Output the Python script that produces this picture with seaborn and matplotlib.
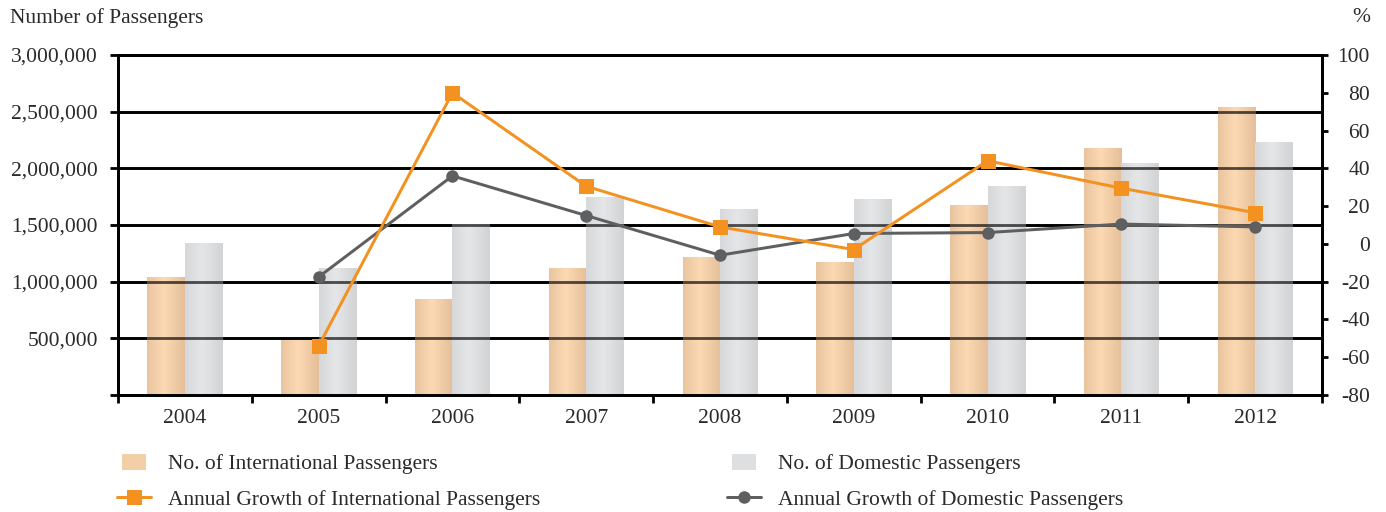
import numpy as np
import pandas as pd
import matplotlib
matplotlib.use("Agg")
import matplotlib.pyplot as plt
import seaborn as sns
from matplotlib.colors import LinearSegmentedColormap
from matplotlib.patches import Rectangle
from matplotlib.lines import Line2D
from matplotlib.legend_handler import HandlerPatch
from matplotlib.ticker import FuncFormatter, FixedLocator

# ---------------- data ----------------
years = ["2004", "2005", "2006", "2007", "2008", "2009", "2010", "2011", "2012"]
intl_passengers = [1041000, 485000, 847000, 1120000, 1218000, 1174000, 1676000, 2179000, 2541000]
dom_passengers = [1341000, 1120000, 1509000, 1747000, 1641000, 1729000, 1844000, 2047000, 2232000]
intl_growth = [np.nan, -54.0, 80.0, 30.5, 9.0, -3.0, 44.0, 29.5, 16.5]
dom_growth = [np.nan, -17.5, 36.0, 15.0, -6.0, 5.5, 6.0, 10.5, 9.0]

left_ticks = [0, 500000, 1000000, 1500000, 2000000, 2500000, 3000000]
right_ticks = [-80, -60, -40, -20, 0, 20, 40, 60, 80, 100]

lab_intl = "No. of International Passengers"
lab_dom = "No. of Domestic Passengers"
lab_ig = "Annual Growth of International Passengers"
lab_dg = "Annual Growth of Domestic Passengers"

# ---------------- style ----------------
sns.set_theme(style="white")
plt.rcParams["font.family"] = ["Liberation Serif", "DejaVu Serif"]
TXT = "#2a2a2a"
FS = 15.5
plt.rcParams.update({
    "text.color": TXT, "xtick.color": "black", "ytick.color": "black",
    "xtick.labelcolor": TXT, "ytick.labelcolor": TXT,
    "axes.edgecolor": "black", "font.size": FS,
    "axes.unicode_minus": False,
})

ORANGE_BAR = ["#e9c4a0", "#fcd9b3", "#e4bf9a"]
GREY_BAR = ["#d7d8da", "#e5e6e8", "#d2d3d5"]
ORANGE_LINE = "#f39221"
GREY_LINE = "#5e5f61"

px = 72 / 100.0  # points per pixel
LW = 2 * px * 1.4

fig = plt.figure(figsize=(13.86, 5.12), dpi=100)
ax = fig.add_axes([118 / 1386, 1 - 395 / 512, (1322 - 118) / 1386, (395 - 55) / 512])

df = pd.DataFrame({
    "Year": years * 2,
    "Passengers": intl_passengers + dom_passengers,
    "Type": ["Intl"] * len(years) + ["Dom"] * len(years),
})
sns.barplot(data=df, x="Year", y="Passengers", hue="Type",
            palette=[ORANGE_BAR[1], GREY_BAR[1]], width=0.56, saturation=1,
            legend=False, ax=ax, linewidth=0, zorder=2)

# gradient fill of bars
cmaps = {0: LinearSegmentedColormap.from_list("o", list(zip([0, 0.45, 1], ORANGE_BAR))),
         1: LinearSegmentedColormap.from_list("g", list(zip([0, 0.45, 1], GREY_BAR)))}
grad = np.linspace(0, 1, 64).reshape(1, -1)
n = len(years)
for i, p in enumerate(list(ax.patches)):
    x0, y0 = p.get_x(), p.get_y()
    w, h = p.get_width(), p.get_height()
    if h <= 0:
        continue
    cm = cmaps[0] if i < n else cmaps[1]
    im = ax.imshow(grad, cmap=cm, extent=[x0, x0 + w, y0, y0 + h],
                   aspect="auto", zorder=2.1, interpolation="bicubic")
    im.set_clip_path(p)

ax.set_xlim(-0.5, n - 0.5)
ax.set_ylim(0, 3000000)

# grid lines: solid under bars, translucent over bars
for v in left_ticks[1:]:
    ax.axhline(v, color="black", lw=LW, zorder=1)
    ax.axhline(v, color="black", lw=LW, alpha=0.68, zorder=3)

ax.yaxis.set_major_locator(FixedLocator(left_ticks))
ax.yaxis.set_major_formatter(FuncFormatter(lambda v, _: "" if v == 0 else f"{int(v):,}"))
ax.tick_params(axis="y", which="major", direction="out", length=8 * px, width=LW,
               pad=12 * px, labelsize=FS, left=True)
ax.xaxis.set_minor_locator(FixedLocator(np.arange(-0.5, n, 1.0)))
ax.tick_params(axis="x", which="major", length=0, pad=14 * px, labelsize=FS, bottom=True)
ax.tick_params(axis="x", which="minor", length=8 * px, width=LW, direction="out", bottom=True)
ax.set_xlabel("")
ax.set_ylabel("")
for s in ["left", "bottom", "right", "top"]:
    ax.spines[s].set_linewidth(LW)
    ax.spines[s].set_color("black")

# ---------------- growth lines on right axis ----------------
ax2 = ax.twinx()
pos = np.arange(n)
gdf = pd.DataFrame({"pos": np.concatenate([pos, pos]),
                    "growth": intl_growth + dom_growth,
                    "series": ["i"] * n + ["d"] * n}).dropna()
gi = gdf[gdf.series == "i"]
gd = gdf[gdf.series == "d"]
sns.lineplot(data=gd, x="pos", y="growth", ax=ax2, color=GREY_LINE, marker="o",
             markersize=12.5 * px, markeredgewidth=0, linewidth=3 * px, zorder=4)
sns.lineplot(data=gi, x="pos", y="growth", ax=ax2, color=ORANGE_LINE, marker="s",
             markersize=15 * px, markeredgewidth=0, linewidth=3 * px, zorder=5)
ax2.set_ylim(-80, 100)
ax2.set_xlim(-0.5, n - 0.5)
ax2.yaxis.set_major_locator(FixedLocator(right_ticks))
ax2.tick_params(axis="y", which="major", right=True, direction="out", length=6 * px,
                width=LW, labelsize=FS, pad=42 * px)
for lab in ax2.get_yticklabels():
    lab.set_horizontalalignment("right")
ax2.set_xlabel("")
ax2.set_ylabel("")
for s in ["left", "bottom", "right", "top"]:
    ax2.spines[s].set_linewidth(LW)
    ax2.spines[s].set_color("black")

# axis titles
fig.text(10 / 1386, 1 - 18 / 512, "Number of Passengers", ha="left", va="center", fontsize=FS)
fig.text(1370 / 1386, 1 - 18 / 512, "%", ha="right", va="center", fontsize=FS)

# ---------------- legends ----------------
def small_rect(legend, orig_handle, xdescent, ydescent, width, height, fontsize):
    rw, rh = 24 * px, 16 * px
    return Rectangle((-xdescent + (width - rw) / 2, -ydescent + (height - rh) / 2), rw, rh)

h_intl = Rectangle((0, 0), 1, 1, facecolor="#f3cfa8", edgecolor="none")
h_dom = Rectangle((0, 0), 1, 1, facecolor="#dedfe1", edgecolor="none")
h_ig = Line2D([], [], color=ORANGE_LINE, marker="s", markersize=15 * px, markeredgewidth=0, linewidth=3 * px)
h_dg = Line2D([], [], color=GREY_LINE, marker="o", markersize=12.5 * px, markeredgewidth=0, linewidth=3 * px)
hm = {Rectangle: HandlerPatch(patch_func=small_rect)}

common = dict(loc="upper left", frameon=False, fontsize=FS, handlelength=1.6,
              handletextpad=0.75, labelspacing=0.72, borderpad=0, borderaxespad=0,
              handler_map=hm, labelcolor=TXT)
leg1 = fig.legend([h_intl, h_ig], [lab_intl, lab_ig], bbox_to_anchor=(117 / 1386, 1 - 454 / 512), **common)
leg2 = fig.legend([h_dom, h_dg], [lab_dom, lab_dg], bbox_to_anchor=(727 / 1386, 1 - 454 / 512), **common)

fig.savefig("out.png", dpi=100)
